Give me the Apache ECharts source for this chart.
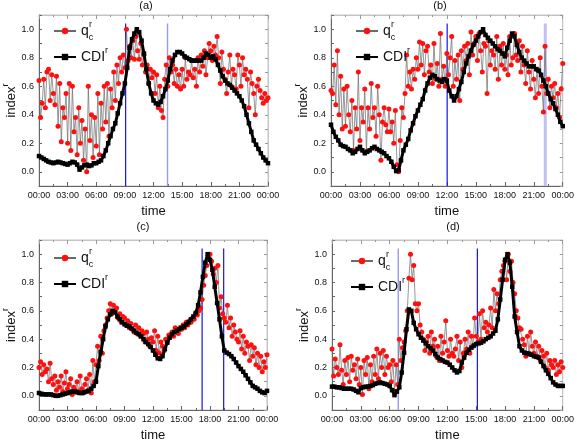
<!DOCTYPE html>
<html><head><meta charset="utf-8">
<script src="https://cdn.jsdelivr.net/npm/echarts@6/dist/echarts.min.js"></script>
<style>html,body{margin:0;padding:0;background:#fff}#c{width:577px;height:443px}</style>
</head><body><div id="c"></div>
<script>
// ---------- DATA ----------
const panelTitles = ['(a)', '(b)', '(c)', '(d)'];
const xTickLabels = ['00:00','03:00','06:00','09:00','12:00','15:00','18:00','21:00','00:00'];
const seriesNames = ['q', 'CDI'];
// CDI^r every 15 min, 00:00 .. 24:00
const cdiA = [
0.11,0.10,0.09,0.08, 0.07,0.065,0.06,0.065, 0.07,0.065,0.06,0.055, 0.05,0.06,0.07,0.065,
0.05,0.015,0.03,0.045, 0.05,0.04,0.045,0.06, 0.06,0.07,0.08,0.11, 0.15,0.2,0.25,0.3,
0.34,0.41,0.48,0.55, 0.62,0.73,0.87,0.93, 0.97,1.0,0.98,0.92, 0.83,0.72,0.62,0.55,
0.5,0.48,0.47,0.49, 0.53,0.58,0.64,0.72, 0.78,0.82,0.84,0.84, 0.83,0.81,0.8,0.79,
0.78,0.78,0.78,0.78, 0.78,0.8,0.83,0.82, 0.8,0.81,0.79,0.75, 0.71,0.67,0.64,0.62,
0.61,0.59,0.57,0.55, 0.53,0.5,0.46,0.4, 0.34,0.28,0.22,0.19, 0.16,0.13,0.1,0.08, 0.06];
const cdiB = [
0.33,0.28,0.245,0.22, 0.19,0.18,0.175,0.16, 0.15,0.13,0.14,0.16, 0.175,0.15,0.13,0.14,
0.15,0.165,0.175,0.16, 0.15,0.14,0.13,0.11, 0.095,0.07,0.035,0.005, 0.01,0.08,0.15,0.19,
0.23,0.29,0.34,0.39, 0.43,0.47,0.51,0.57, 0.62,0.66,0.68,0.67, 0.65,0.64,0.63,0.65,
0.64,0.57,0.53,0.5, 0.53,0.58,0.63,0.7, 0.76,0.81,0.85,0.89, 0.92,0.95,0.98,1.0,
0.96,0.94,0.92,0.9, 0.88,0.86,0.85,0.83, 0.81,0.87,0.92,0.97, 0.95,0.89,0.84,0.8,
0.78,0.76,0.74,0.74, 0.74,0.72,0.71,0.68, 0.64,0.6,0.55,0.51, 0.48,0.44,0.4,0.35, 0.32];
const cdiC = [
0.02,0.015,0.01,0.01, 0.01,0.01,0.005,0.0, 0.0,0.005,0.01,0.015, 0.02,0.025,0.03,0.03,
0.025,0.02,0.02,0.025, 0.03,0.035,0.05,0.07, 0.1,0.21,0.31,0.4, 0.49,0.54,0.575,0.6,
0.59,0.56,0.54,0.52, 0.505,0.495,0.49,0.475, 0.46,0.445,0.435,0.42, 0.4,0.38,0.365,0.345,
0.32,0.29,0.265,0.26, 0.28,0.33,0.375,0.41, 0.435,0.45,0.46,0.47, 0.48,0.49,0.505,0.52,
0.54,0.56,0.585,0.64, 0.73,0.84,0.94,1.0, 0.96,0.89,0.77,0.655, 0.54,0.42,0.32,0.305,
0.295,0.28,0.26,0.235, 0.21,0.19,0.17,0.145, 0.12,0.095,0.07,0.06, 0.05,0.035,0.025,0.02, 0.035];
const cdiD = [
0.065,0.065,0.06,0.06, 0.055,0.05,0.05,0.05, 0.05,0.045,0.035,0.025, 0.055,0.06,0.065,0.065,
0.07,0.075,0.085,0.09, 0.095,0.09,0.085,0.08, 0.07,0.04,0.005,0.03, 0.06,0.165,0.305,0.47,
0.61,0.6,0.515,0.47, 0.435,0.41,0.39,0.37, 0.35,0.335,0.32,0.295, 0.27,0.26,0.25,0.24,
0.235,0.22,0.2,0.18, 0.165,0.175,0.235,0.27, 0.305,0.325,0.34,0.355, 0.365,0.37,0.375,0.385,
0.4,0.41,0.42,0.44, 0.46,0.54,0.68,0.82, 0.96,1.0,0.94,0.77, 0.56,0.45,0.35,0.32,
0.305,0.3,0.295,0.29, 0.28,0.275,0.27,0.24, 0.21,0.18,0.155,0.125, 0.095,0.08,0.07,0.07, 0.07];
// q_c^r every 10 min, 00:00 .. 24:00
const qA = [
0.64,0.38,0.48,0.65,0.45,0.7, 0.72,0.5,0.68,0.55,0.47,0.67, 0.32,0.62,0.21,0.45,0.38,0.55,
0.2,0.62,0.15,0.6,0.28,0.38, 0.12,0.45,0.2,0.36,0.08,0.3, 0.0,0.6,0.22,0.4,0.1,0.38,
0.18,0.55,0.12,0.48,0.3,0.6, 0.35,0.62,0.25,0.58,0.45,0.7, 0.5,0.75,0.62,0.8,0.7,0.82,
0.73,1.0,0.78,0.88,0.8,0.92, 0.79,0.95,0.85,0.79,0.9,0.75, 0.82,0.7,0.75,0.62,0.72,0.66,
0.7,0.55,0.68,0.45,0.6,0.43, 0.38,0.65,0.75,0.6,0.8,0.7, 0.75,0.62,0.72,0.6,0.68,0.58,
0.72,0.6,0.8,0.65,0.7,0.68, 0.78,0.66,0.72,0.6,0.8,0.7, 0.82,0.74,0.85,0.68,0.8,0.9,
0.85,0.78,0.88,0.82,0.95,0.8, 0.62,0.84,0.72,0.65,0.55,0.7, 0.82,0.6,0.72,0.68,0.58,0.82,
0.75,0.6,0.8,0.68,0.72,0.65, 0.45,0.7,0.62,0.55,0.4,0.6, 0.65,0.57,0.52,0.48,0.55,0.5, 0.52];
const qB = [
0.57,0.55,0.75,0.47,0.85,0.4, 0.67,0.3,0.58,0.32,0.6,0.4, 0.28,0.5,0.15,0.45,0.3,0.7,
0.22,0.45,0.35,0.58,0.14,0.45, 0.3,0.62,0.38,0.45,0.25,0.6, 0.4,0.08,0.35,0.45,0.33,0.28,
0.44,0.28,0.35,0.2,0.43,0.05, 0.0,0.22,0.45,0.38,0.55,0.82, 0.6,0.7,0.58,0.72,0.65,0.8,
0.72,0.91,0.75,0.9,0.68,0.85, 0.88,0.7,0.75,0.62,0.9,0.65, 0.76,0.6,0.97,0.65,0.74,0.6,
0.83,0.68,0.8,0.95,0.6,0.78, 0.65,0.82,0.5,0.85,0.72,0.88, 0.78,0.9,0.68,0.98,0.82,0.9,
0.95,0.78,0.97,0.85,0.7,0.9, 0.88,0.55,0.92,0.75,0.85,0.82, 0.72,0.95,0.65,0.88,0.75,0.9,
0.72,0.82,0.68,0.95,0.75,0.8, 0.97,0.82,0.78,0.92,0.7,0.88, 0.75,0.62,0.85,0.7,0.58,0.78,
0.65,0.52,0.72,0.55,0.8,0.6, 0.42,0.88,0.55,0.65,0.45,0.6, 0.52,0.62,0.45,0.55,0.38,0.58, 0.76];
const qC = [
0.2,0.24,0.15,0.22,0.17,0.19, 0.1,0.23,0.12,0.08,0.14,0.04, 0.1,0.06,0.14,0.03,0.09,0.17,
0.05,0.08,0.12,0.01,0.06,0.04, 0.1,0.03,0.14,0.05,0.02,0.08, 0.12,0.04,0.15,0.02,0.25,0.1,
0.22,0.35,0.25,0.42,0.3,0.46, 0.5,0.55,0.6,0.65,0.58,0.64, 0.6,0.62,0.55,0.58,0.52,0.56,
0.55,0.5,0.53,0.48,0.51,0.47, 0.45,0.5,0.44,0.48,0.42,0.46, 0.44,0.38,0.45,0.4,0.35,0.41,
0.38,0.46,0.32,0.42,0.3,0.38, 0.35,0.32,0.4,0.38,0.43,0.42, 0.45,0.42,0.48,0.46,0.44,0.48,
0.47,0.5,0.48,0.52,0.5,0.53, 0.52,0.55,0.54,0.58,0.57,0.6, 0.62,0.68,0.78,0.85,0.92,0.97,
1.0,0.95,0.86,0.9,0.8,0.92, 0.62,0.7,0.58,0.55,0.52,0.64, 0.48,0.55,0.42,0.5,0.45,0.4,
0.38,0.46,0.33,0.42,0.3,0.38, 0.35,0.25,0.36,0.28,0.34,0.22, 0.3,0.2,0.28,0.17,0.24,0.2, 0.29];
const qD = [
0.33,0.14,0.26,0.2,0.15,0.36, 0.18,0.08,0.25,0.15,0.27,0.1, 0.28,0.18,0.22,0.12,0.26,0.08,
0.2,0.01,0.25,0.15,0.27,0.05, 0.22,0.1,0.28,0.15,0.33,0.12, 0.3,0.2,0.32,0.15,0.28,0.2,
0.22,0.1,0.25,0.03,0.22,0.08, 0.4,0.25,0.34,0.38,0.46,0.6, 0.83,1.0,0.82,0.92,0.65,0.6,
0.65,0.5,0.45,0.4,0.32,0.38, 0.42,0.3,0.45,0.35,0.4,0.28, 0.35,0.25,0.42,0.3,0.38,0.53,
0.32,0.28,0.4,0.3,0.28,0.33, 0.42,0.25,0.38,0.2,0.3,0.4, 0.33,0.45,0.3,0.42,0.35,0.55,
0.42,0.38,0.58,0.4,0.6,0.48, 0.52,0.45,0.5,0.62,0.48,0.75, 0.6,0.72,0.65,0.82,0.88,0.92,
0.95,0.82,1.0,0.88,0.95,0.8, 0.72,0.6,0.55,0.48,0.47,0.4, 0.36,0.28,0.42,0.3,0.45,0.35,
0.3,0.38,0.28,0.35,0.25,0.32, 0.28,0.2,0.3,0.18,0.25,0.22, 0.2,0.25,0.15,0.22,0.17,0.24, 0.2];
// vertical marker lines (hour of day)
const markA = [9.08, 13.47];
const markB = [12.03, 22.19];
const markC = [17.17, 19.44];
const markD = [6.89, 15.12];
const markTop = 1.04, markBottom = -0.1;

// ---------- LAYOUT / STYLE ----------
const FONT = '"Liberation Sans", Arial, sans-serif';
const cdiSets = [cdiA, cdiB, cdiC, cdiD];
const qSets = [qA, qB, qC, qD];
const markSets = [markA, markB, markC, markD];
const DARK = '#1414e6', LIGHT = '#9a9af2';
const markStyles = [
  [{color:DARK, width:1.2}, {color:LIGHT, width:1.4}],
  [{color:DARK, width:1.2}, {color:'#c0c0f2', width:3}],
  [{color:DARK, width:1.2}, {color:DARK, width:1.2}],
  [{color:LIGHT, width:1.4}, {color:DARK, width:1.2}]
];
const grids = [
  {left:33, top:15, width:235, height:171},
  {left:331, top:15, width:234, height:171},
  {left:33, top:240, width:234, height:171},
  {left:332, top:240, width:234, height:171}
];
const legendPos = [{left:48, top:15}, {left:350, top:15}, {left:48, top:242}, {left:345, top:245}];
const titlePos = [[146, 0], [440, 0], [143, 221], [453, 221]];
const CDI_STEP = 0.25, Q_STEP = 1/6;
const axisColor = '#666', frameColor = '#c4c4c4';

const option = {animation:false, grid:[], xAxis:[], yAxis:[], series:[], legend:[], graphic:[]};
for (let i = 0; i < 4; i++) {
  option.grid.push(Object.assign({show:true, borderColor:frameColor, borderWidth:1, backgroundColor:'transparent'}, grids[i]));
  const xBase = {type:'value', gridIndex:i, min:0, max:24, interval:3, splitLine:{show:false}};
  option.xAxis.push(Object.assign({}, xBase, {
    position:'bottom',
    axisLine:{show:true, onZero:false, lineStyle:{color:axisColor}},
    axisTick:{show:true, inside:true, length:4, lineStyle:{color:axisColor}},
    minorTick:{show:true, splitNumber:2, length:2, lineStyle:{color:axisColor}},
    axisLabel:{fontSize:9, margin:5, color:'#111', fontFamily:FONT, formatter:v => xTickLabels[Math.round(v/3)]},
    name:'time', nameLocation:'middle', nameGap:19,
    nameTextStyle:{fontSize:13, color:'#111', fontFamily:FONT}
  }));
  option.xAxis.push(Object.assign({}, xBase, {
    position:'top',
    axisLine:{show:true, onZero:false, lineStyle:{color:frameColor}},
    axisTick:{show:true, inside:true, length:4, lineStyle:{color:'#999'}},
    minorTick:{show:true, splitNumber:2, length:2, lineStyle:{color:'#999'}},
    axisLabel:{show:false}
  }));
  const yBase = {type:'value', gridIndex:i, min:-0.1, max:1.1, interval:0.1, splitLine:{show:false}};
  option.yAxis.push(Object.assign({}, yBase, {
    position:'left',
    axisLine:{show:true, onZero:false, lineStyle:{color:axisColor}},
    axisTick:{show:true, inside:true, length:3, lineStyle:{color:axisColor}},
    axisLabel:{fontSize:9, margin:5, color:'#111', fontFamily:FONT,
      formatter:v => (Math.round(v*10) % 2 === 0 ? v.toFixed(1) : '')},
    name:'{n|index}{s|r}', nameLocation:'middle', nameGap:18,
    nameTextStyle:{color:'#111', fontFamily:FONT, rich:{
      n:{fontSize:13, fontFamily:FONT, color:'#111', lineHeight:20},
      s:{fontSize:9, fontFamily:FONT, color:'#111', verticalAlign:'top', lineHeight:20}}}
  }));
  option.yAxis.push(Object.assign({}, yBase, {
    position:'right',
    axisLine:{show:true, onZero:false, lineStyle:{color:frameColor}},
    axisTick:{show:true, inside:true, length:3, lineStyle:{color:'#999'}},
    axisLabel:{show:false}
  }));
  markSets[i].forEach((x, j) => {
    option.series.push({
      name:'mark', type:'line', xAxisIndex:2*i, yAxisIndex:2*i, silent:true,
      data:[[x, markTop], [x, markBottom]], symbol:'none', showSymbol:false,
      lineStyle:Object.assign({type:'solid'}, markStyles[i][j]), z:1
    });
  });
  option.series.push({
    name:seriesNames[0], type:'line', xAxisIndex:2*i, yAxisIndex:2*i,
    data:qSets[i].map((v,k) => [k*Q_STEP, v]),
    symbol:'circle', symbolSize:5, showSymbol:true,
    itemStyle:{color:'#ff1010'}, lineStyle:{color:'#6a6a6a', width:0.7},
    z:2
  });
  option.series.push({
    name:seriesNames[1], type:'line', xAxisIndex:2*i, yAxisIndex:2*i,
    data:cdiSets[i].map((v,k) => [k*CDI_STEP, v]),
    symbol:'rect', symbolSize:4.5, showSymbol:true,
    itemStyle:{color:'#000'}, lineStyle:{color:'#000', width:3},
    z:3
  });
  option.legend.push(Object.assign({
    orient:'vertical', itemWidth:22, itemHeight:8, itemGap:4,
    data:seriesNames,
    formatter:n => n === 'q' ? '{m|q}{sb|c}{sp|r}' : '{m|CDI}{sp|r}',
    textStyle:{color:'#111', fontFamily:FONT, rich:{
      m:{fontSize:14, fontFamily:FONT, color:'#111', lineHeight:22},
      sb:{fontSize:9, fontFamily:FONT, color:'#111', verticalAlign:'bottom', lineHeight:22, width:0.1},
      sp:{fontSize:9, fontFamily:FONT, color:'#111', verticalAlign:'top', lineHeight:22}}}
  }, legendPos[i]));
  option.graphic.push({type:'text', x:titlePos[i][0], y:titlePos[i][1],
    style:{text:panelTitles[i], fontSize:11, fontFamily:FONT, fill:'#111', textAlign:'center', textVerticalAlign:'top'}});
}
const chart = echarts.init(document.getElementById('c'), null, {renderer:'canvas'});
chart.setOption(option);
</script>
</body></html>
